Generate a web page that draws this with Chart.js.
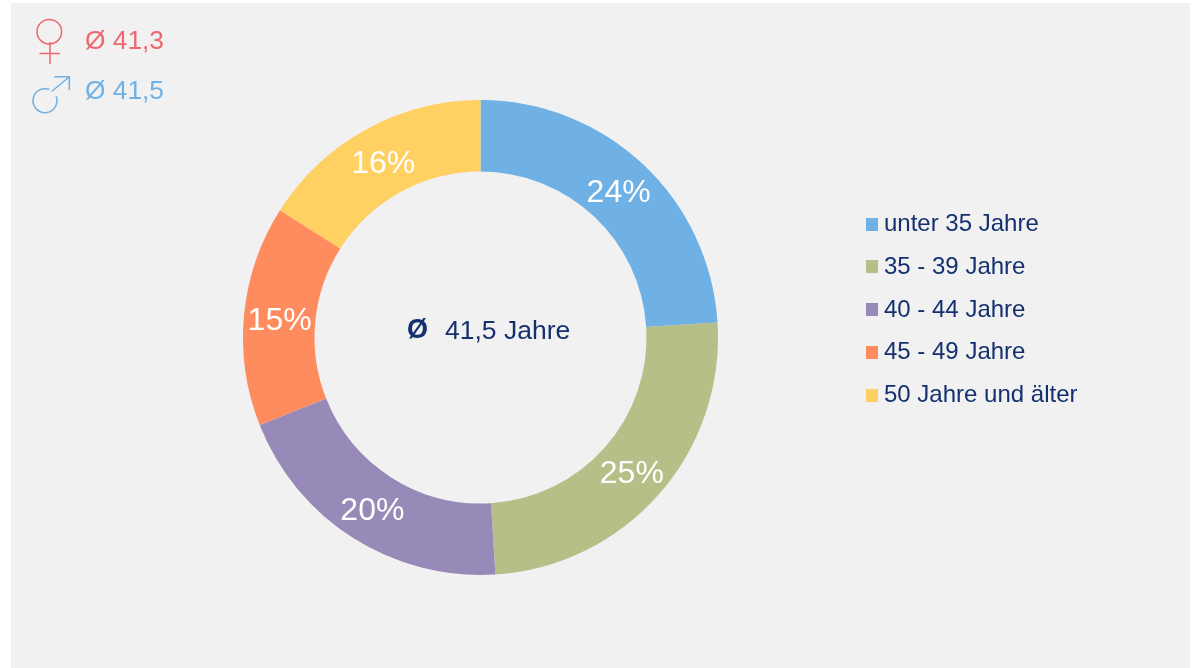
<!DOCTYPE html>
<html><head><meta charset="utf-8">
<style>html,body{margin:0;padding:0;background:#fff}#w{position:absolute;left:0;top:0;width:1196px;height:668px}</style>
<script src="https://cdn.jsdelivr.net/npm/chart.js@4"></script>
</head><body><div id="w"><canvas id="c" width="1196" height="668"></canvas></div>
<script>
const categories=["unter 35 Jahre","35 - 39 Jahre","40 - 44 Jahre","45 - 49 Jahre","50 Jahre und älter"];
const shares=[24,25,20,15,16];
const colors=["#6FB1E4","#B6BF88","#988AB8","#FF8C5F","#FFD162"];
const centerSymbol="Ø";
const centerText="41,5 Jahre";
const femaleText="Ø 41,3";
const maleText="Ø 41,5";
const navy="#14306F", red="#F0666F", blue="#6FB1E4";
const FF='"Liberation Sans",Arial,sans-serif';
const deco={id:'deco',
 beforeDraw(ch){const x=ch.ctx;x.save();x.fillStyle='#F1F1F1';x.fillRect(11,3,1179,665);x.restore();},
 afterDatasetsDraw(ch){
  const x=ch.ctx;x.save();
  x.textBaseline='middle';x.textAlign='center';x.fillStyle='#fff';x.font='32px '+FF;
  ch.getDatasetMeta(0).data.forEach((a,i)=>{const p=a.getCenterPoint();x.fillText(shares[i]+'%',p.x,p.y+3);});
  x.textAlign='left';
  x.font='24px '+FF;
  categories.forEach((t,i)=>{const y=223.5+i*42.75;x.fillStyle=colors[i];x.fillRect(866,Math.round(y)-6,12,13);x.fillStyle=navy;x.fillText(t,884,y+1);});
  x.fillStyle=navy;
  x.font='bold 27px '+FF;x.fillText(centerSymbol,407,331);
  x.font='26.5px '+FF;x.fillText(centerText,445,332);
  x.font='26.3px '+FF;
  x.fillStyle=red;x.fillText(femaleText,85,41.5);
  x.fillStyle=blue;x.fillText(maleText,85,91.5);
  x.lineWidth=1.5;
  x.strokeStyle=red;x.beginPath();x.arc(49.3,31.7,12.3,Math.PI*0.5,Math.PI*0.72+Math.PI*2,false);x.stroke();
  x.beginPath();x.moveTo(50,42);x.lineTo(50,64);x.moveTo(39.5,53.5);x.lineTo(60,53.5);x.stroke();
  x.strokeStyle=blue;x.beginPath();x.arc(45,100.7,12,-Math.PI*0.12,-Math.PI*0.38,false);x.stroke();
  x.beginPath();x.moveTo(51.7,91.5);x.lineTo(69.3,76.7);x.moveTo(54.3,76.7);x.lineTo(69.3,76.7);x.lineTo(69.3,90);x.stroke();
  x.restore();
 }};
new Chart(document.getElementById('c'),{type:'doughnut',
 data:{labels:categories,datasets:[{data:shares,backgroundColor:colors,borderWidth:0}]},
 options:{responsive:false,animation:false,cutout:'69.9%',
  layout:{padding:{left:243,right:478,top:100,bottom:93}},
  plugins:{legend:{display:false},tooltip:{enabled:false}}},
 plugins:[deco]});
</script></body></html>
